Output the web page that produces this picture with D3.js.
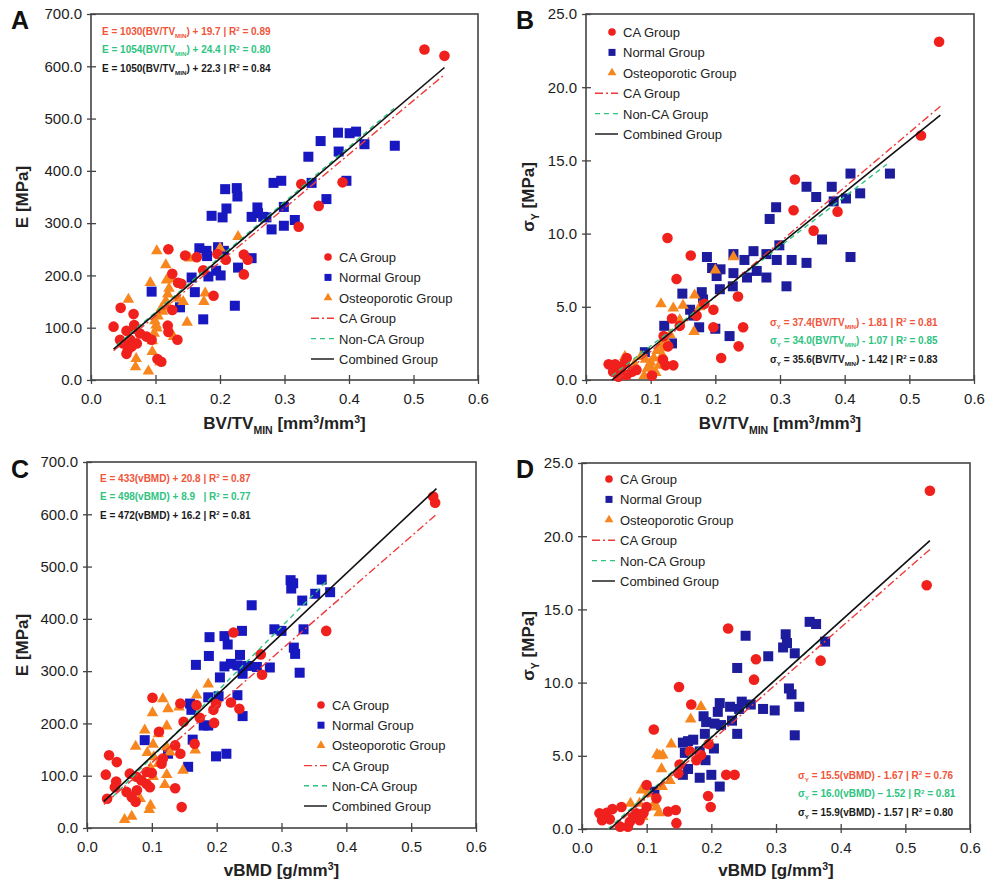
<!DOCTYPE html>
<meta charset="utf-8">
<style>
body { margin: 0; background: #fff; }
text { font-family: "Liberation Sans", Arial, sans-serif; }
</style>
<body>
<div id="chart"></div>
<script src="https://d3js.org/d3.v7.min.js"></script>
<script>
// ---- values ----
var xTicks = [0, 0.1, 0.2, 0.3, 0.4, 0.5, 0.6];
var eTicks = [0, 100, 200, 300, 400, 500, 600, 700];
var sTicks = [0, 5, 10, 15, 20, 25];
var legendNames = ["CA Group", "Normal Group", "Osteoporotic Group", "CA Group", "Non-CA Group", "Combined Group"];

// panel A : E vs BV/TVmin
var aCA = [[0.517,632],[0.548,620],[0.326,375],[0.39,378],[0.353,333],[0.322,293],
  [0.120,250],[0.146,238],[0.164,235],[0.196,241],[0.209,230],[0.237,240],[0.243,230],[0.237,202],
  [0.174,210],[0.126,203],[0.135,186],[0.140,184],[0.19,161],[0.119,104],[0.12,92],[0.134,77],
  [0.103,40],[0.109,35],[0.126,134],[0.035,102],[0.046,138],[0.066,126],[0.055,94],[0.061,77],
  [0.057,57],[0.055,50],[0.071,70],[0.067,105],[0.076,89],[0.045,77],[0.086,83],[0.094,77],
  [0.063,64],[0.05,70],[0.068,98]];
var aNormal = [[0.471,448],[0.383,473],[0.401,472],[0.411,475],[0.356,457],[0.424,451],[0.384,437],
  [0.337,427],[0.396,381],[0.342,377],[0.283,377],[0.295,381],[0.365,346],[0.299,331],[0.258,330],
  [0.316,306],[0.299,295],[0.280,288],[0.267,312],[0.249,312],[0.259,319],[0.272,311],[0.187,314],
  [0.204,311],[0.21,328],[0.208,365],[0.226,367],[0.227,351],[0.168,252],[0.179,247],[0.18,237],
  [0.197,254],[0.206,247],[0.194,209],[0.201,200],[0.182,198],[0.156,196],[0.228,215],[0.249,233],
  [0.161,168],[0.174,116],[0.223,142],[0.094,169],[0.138,139]];
var aOsteo = [[0.102,247],[0.116,220],[0.092,186],[0.058,154],[0.121,175],[0.119,164],[0.116,151],
  [0.12,140],[0.111,131],[0.104,122],[0.099,113],[0.109,137],[0.102,99],[0.098,89],[0.101,105],
  [0.095,75],[0.095,54],[0.07,41],[0.069,25],[0.089,17],[0.107,34],[0.128,83],[0.135,156],
  [0.143,150],[0.149,110],[0.153,233],[0.177,166],[0.175,150],[0.2,252],[0.228,274],[0.117,191],[0.125,194]];
var aFitCA = [[0.035,55.8],[0.548,584]];
var aFitNon = [[0.04,66.6],[0.47,519.8]];
var aFitAll = [[0.035,59],[0.548,597.7]];

// panel B : sigmaY vs BV/TVmin
var bCA = [[0.546,23.1],[0.518,16.7],[0.323,13.7],[0.321,11.6],[0.389,11.5],[0.352,10.2],
  [0.126,9.7],[0.162,8.5],[0.140,6.9],[0.235,5.7],[0.243,3.6],[0.236,2.3],[0.209,1.5],[0.197,4.8],
  [0.197,3.6],[0.171,4.4],[0.133,4.2],[0.145,3.7],[0.127,2.3],[0.12,3.0],[0.119,1.4],[0.123,1.0],
  [0.135,1.0],[0.102,0.3],[0.035,1.07],[0.045,1.07],[0.055,0.9],[0.063,1.5],[0.053,0.7],[0.05,0.23],
  [0.071,0.57],[0.078,0.68],[0.063,0.34],[0.042,0.57],[0.06,1.2],[0.183,5.2]];
var bNormal = [[0.47,14.1],[0.409,14.1],[0.341,13.2],[0.38,13.2],[0.356,12.5],[0.402,12.4],[0.424,12.75],
  [0.383,12.2],[0.294,11.8],[0.284,11.0],[0.365,9.6],[0.299,9.2],[0.228,8.6],[0.259,8.8],[0.187,8.4],
  [0.245,8.2],[0.295,8.2],[0.318,8.2],[0.341,8.0],[0.409,8.4],[0.279,8.6],[0.195,7.65],[0.208,7.56],
  [0.228,7.3],[0.202,7.1],[0.264,7.45],[0.279,7.0],[0.249,7.0],[0.227,6.4],[0.207,6.2],[0.31,6.4],
  [0.149,5.9],[0.179,6.0],[0.161,4.8],[0.181,5.5],[0.175,3.6],[0.121,3.7],[0.2,3.5],[0.222,3.0],
  [0.133,2.5],[0.091,1.9],[0.166,4.4]];
var bOsteo = [[0.228,8.4],[0.2,7.5],[0.168,5.8],[0.116,5.2],[0.15,5.1],[0.135,4.9],[0.167,3.3],
  [0.145,4.1],[0.176,5.0],[0.09,0.3],[0.095,0.8],[0.1,1.2],[0.105,1.5],[0.11,2.0],[0.115,2.4],
  [0.12,2.2],[0.1,0.9],[0.092,1.4],[0.108,0.5],[0.125,2.6],[0.13,3.1],[0.06,1.6],[0.075,1.1],
  [0.085,1.6],[0.113,1.0],[0.118,1.7]];
var bFitCA = [[0.048,0],[0.548,18.7]];
var bFitNon = [[0.04,0.29],[0.47,14.9]];
var bFitAll = [[0.04,0],[0.548,18.1]];

// panel C : E vs vBMD
var cCA = [[0.534,634],[0.537,622],[0.369,377],[0.226,374],[0.268,332],[0.27,293],[0.101,249],
  [0.144,238],[0.169,235],[0.199,237],[0.222,240],[0.235,228],[0.195,226],[0.174,211],[0.149,203],
  [0.196,201],[0.111,184],[0.136,158],[0.117,133],[0.144,142],[0.166,161],[0.034,139],[0.046,126],
  [0.029,102],[0.045,89],[0.066,104],[0.1,105],[0.076,98],[0.084,91],[0.092,84],[0.097,78],
  [0.061,69],[0.077,72],[0.043,78],[0.031,56],[0.075,50],[0.136,76],[0.146,40],[0.115,123],
  [0.092,107],[0.069,59]];
var cNormal = [[0.362,475],[0.314,474],[0.318,468],[0.315,458],[0.375,451],[0.352,448],[0.332,435],
  [0.254,426],[0.334,380],[0.289,380],[0.3,377],[0.239,377],[0.189,365],[0.212,367],[0.217,351],
  [0.319,345],[0.321,333],[0.188,329],[0.236,331],[0.168,312],[0.212,309],[0.222,314],[0.232,311],
  [0.247,310],[0.24,295],[0.262,308],[0.282,307],[0.328,297],[0.205,288],[0.187,250],[0.203,252],
  [0.232,254],[0.159,238],[0.161,226],[0.24,214],[0.18,196],[0.187,196],[0.163,169],[0.089,168],
  [0.125,142],[0.199,137],[0.215,142],[0.156,117]];
var cOsteo = [[0.187,275],[0.169,254],[0.117,247],[0.125,228],[0.142,231],[0.101,220],[0.089,187],
  [0.075,156],[0.102,160],[0.093,144],[0.103,136],[0.11,123],[0.123,155],[0.128,145],[0.167,149],
  [0.123,102],[0.12,83],[0.148,110],[0.102,98],[0.098,115],[0.082,56],[0.096,35],[0.098,43],
  [0.069,22],[0.058,16],[0.123,195],[0.11,180]];
var cFitCA = [[0.026,45],[0.539,600]];
var cFitNon = [[0.04,60],[0.368,470]];
var cFitAll = [[0.026,51],[0.539,649]];

// panel D : sigmaY vs vBMD
var dCA = [[0.538,23.1],[0.533,16.65],[0.226,13.7],[0.269,11.6],[0.369,11.5],[0.266,10.2],[0.15,9.7],
  [0.169,8.5],[0.111,6.8],[0.196,5.8],[0.184,5.05],[0.167,5.3],[0.151,4.4],[0.177,4.7],[0.223,3.7],
  [0.236,3.7],[0.195,2.25],[0.199,1.5],[0.146,0.4],[0.145,1.3],[0.133,1.2],[0.115,2.1],[0.1,3.0],
  [0.149,3.8],[0.027,1.07],[0.038,1.1],[0.047,1.36],[0.031,0.6],[0.043,0.66],[0.061,1.5],[0.059,0.16],
  [0.074,0.5],[0.079,0.84],[0.084,1.07],[0.089,0.6],[0.1,1.5],[0.095,1.07],[0.071,0.16]];
var dNormal = [[0.352,14.15],[0.362,14.0],[0.376,12.8],[0.315,13.3],[0.311,12.4],[0.317,12.7],
  [0.329,12.0],[0.253,13.2],[0.288,11.8],[0.24,11.0],[0.32,9.6],[0.324,9.2],[0.336,8.35],[0.28,8.2],
  [0.298,8.1],[0.329,6.4],[0.24,6.5],[0.21,8.0],[0.213,8.6],[0.229,8.35],[0.247,8.7],[0.243,8.2],
  [0.261,8.5],[0.188,7.7],[0.192,7.3],[0.19,6.5],[0.205,7.2],[0.215,7.1],[0.232,7.4],[0.164,6.0],
  [0.156,5.9],[0.172,6.1],[0.159,5.2],[0.164,4.1],[0.156,3.7],[0.182,3.5],[0.2,3.7],[0.213,2.9],
  [0.191,4.7],[0.204,5.5],[0.112,2.55],[0.182,5.3]];
var dOsteo = [[0.184,8.35],[0.168,7.5],[0.138,5.8],[0.116,5.1],[0.125,5.05],[0.123,4.1],[0.12,5.0],
  [0.124,2.9],[0.136,3.3],[0.112,1.75],[0.119,1.1],[0.115,1.5],[0.089,1.75],[0.075,1.75],[0.082,0.95],
  [0.092,2.65],[0.102,2.4],[0.094,0.84]];
var dFitCA = [[0.045,0],[0.538,19.1]];
var dFitNon = [[0.04,0],[0.373,13.1]];
var dFitAll = [[0.043,0],[0.538,19.7]];

// regression labels: [text, "n" normal | "sub" | "sup"]
var aEq = [
  [["E = 1030(BV/TV","n"],["MIN","sub"],[") + 19.7 | R","n"],["2","sup"],[" = 0.89","n"]],
  [["E = 1054(BV/TV","n"],["MIN","sub"],[") + 24.4 | R","n"],["2","sup"],[" = 0.80","n"]],
  [["E = 1050(BV/TV","n"],["MIN","sub"],[") + 22.3 | R","n"],["2","sup"],[" = 0.84","n"]]];
var bEq = [
  [["\u03c3","n"],["Y","sub"],[" = 37.4(BV/TV","n"],["MIN","sub"],[") - 1.81 | R","n"],["2","sup"],[" = 0.81","n"]],
  [["\u03c3","n"],["Y","sub"],[" = 34.0(BV/TV","n"],["MIN","sub"],[") - 1.07 | R","n"],["2","sup"],[" = 0.85","n"]],
  [["\u03c3","n"],["Y","sub"],[" = 35.6(BV/TV","n"],["MIN","sub"],[") - 1.42 | R","n"],["2","sup"],[" = 0.83","n"]]];
var cEq = [
  [["E = 433(vBMD) + 20.8 | R","n"],["2","sup"],[" = 0.87","n"]],
  [["E = 498(vBMD) + 8.9   | R","n"],["2","sup"],[" = 0.77","n"]],
  [["E = 472(vBMD) + 16.2 | R","n"],["2","sup"],[" = 0.81","n"]]];
var dEq = [
  [["\u03c3","n"],["Y","sub"],[" = 15.5(vBMD) - 1.67 | R","n"],["2","sup"],[" = 0.76","n"]],
  [["\u03c3","n"],["Y","sub"],[" = 16.0(vBMD) \u2013 1.52 | R","n"],["2","sup"],[" = 0.81","n"]],
  [["\u03c3","n"],["Y","sub"],[" = 15.9(vBMD) - 1.57 | R","n"],["2","sup"],[" = 0.80","n"]]];

var xTitleBV = [["BV/TV","n"],["MIN","sub"],[" [mm","n"],["3","sup"],["/mm","n"],["3","sup"],["]","n"]];
var xTitleVB = [["vBMD [g/mm","n"],["3","sup"],["]","n"]];
var yTitleE = [["E [MPa]","n"]];
var yTitleS = [["\u03c3","n"],["Y","sub"],[" [MPa]","n"]];

var eqColors = ["#f0553a", "#2ec47f", "#1a1a1a"];
var red = "#f0201c", orange = "#f7861e";

var svg = d3.select("#chart").append("svg")
    .attr("width", 995)
    .attr("height", 880);

// write text made of normal / subscript / superscript pieces
function richText(sel, parts, size) {
  var shift = 0;
  parts.forEach(function(p) {
    var t = sel.append("tspan").text(p[0]);
    var target = p[1] == "sub" ? size * 0.3 : (p[1] == "sup" ? -size * 0.38 : 0);
    t.attr("dy", target - shift);
    if (p[1] != "n") t.attr("font-size", size * 0.62);
    shift = target;
  });
}

function panel(p) {
  var x = d3.scaleLinear().domain([0, 0.6]).range([p.left, p.left + p.width]);
  var y = d3.scaleLinear().domain([0, p.ymax]).range([p.top + p.height, p.top]);
  var g = svg.append("g");
  var bottom = p.top + p.height;

  // x axis: ticks crossing the frame, labels below
  g.append("g").attr("transform", "translate(0," + bottom + ")")
    .call(d3.axisBottom(x).tickValues(xTicks).tickFormat(d3.format(".1f")).tickSizeInner(4).tickSizeOuter(0).tickPadding(9))
    .call(function(a) { a.select(".domain").remove(); });
  g.append("g").attr("transform", "translate(0," + bottom + ")")
    .call(d3.axisBottom(x).tickValues(xTicks).tickFormat("").tickSizeInner(-5).tickSizeOuter(0))
    .call(function(a) { a.select(".domain").remove(); });
  g.append("g").attr("transform", "translate(" + p.left + ",0)")
    .call(d3.axisLeft(y).tickValues(p.yTicks).tickFormat(d3.format(".1f")).tickSizeInner(4).tickSizeOuter(0).tickPadding(5))
    .call(function(a) { a.select(".domain").remove(); });
  g.append("g").attr("transform", "translate(" + p.left + ",0)")
    .call(d3.axisLeft(y).tickValues(p.yTicks).tickFormat("").tickSizeInner(-5).tickSizeOuter(0))
    .call(function(a) { a.select(".domain").remove(); });
  g.selectAll(".tick text").attr("font-size", 15).attr("fill", "#1c1c1c")
    .style("font-family", "'Liberation Sans', Arial, sans-serif");
  g.selectAll(".tick line").attr("stroke", "#444").attr("stroke-width", 1.3);

  // frame
  g.append("rect")
    .attr("x", p.left).attr("y", p.top)
    .attr("width", p.width).attr("height", p.height)
    .attr("fill", "none").attr("stroke", "#444").attr("stroke-width", 1.6);

  // points
  g.selectAll(".nrm").data(p.normal).enter().append("rect")
    .attr("x", function(d) { return x(d[0]) - 5; })
    .attr("y", function(d) { return y(d[1]) - 5; })
    .attr("width", 10).attr("height", 10)
    .attr("fill", p.blue);
  g.selectAll(".ost").data(p.osteo).enter().append("path")
    .attr("d", d3.symbol(d3.symbolTriangle).size(58))
    .attr("transform", function(d) { return "translate(" + x(d[0]) + "," + y(d[1]) + ")"; })
    .attr("fill", orange);
  g.selectAll(".ca").data(p.ca).enter().append("circle")
    .attr("cx", function(d) { return x(d[0]); })
    .attr("cy", function(d) { return y(d[1]); })
    .attr("r", 5.3)
    .attr("fill", red);

  // regression lines
  var line = d3.line().x(function(d) { return x(d[0]); }).y(function(d) { return y(d[1]); });
  g.append("path").attr("d", line(p.fitNon)).attr("fill", "none")
    .attr("stroke", "#2ec47f").attr("stroke-width", 1.4).attr("stroke-dasharray", "5,4");
  g.append("path").attr("d", line(p.fitCA)).attr("fill", "none")
    .attr("stroke", "#ee3a3a").attr("stroke-width", 1.4).attr("stroke-dasharray", "8,3,2,3");
  g.append("path").attr("d", line(p.fitAll)).attr("fill", "none")
    .attr("stroke", "#111").attr("stroke-width", 1.6);

  // legend
  var lg = g.append("g").attr("transform", "translate(" + p.legend[0] + "," + p.legend[1] + ")");
  legendNames.forEach(function(name, i) {
    var yy = i * p.legendStep;
    if (i == 0) lg.append("circle").attr("cx", 0).attr("cy", yy).attr("r", 3.8).attr("fill", red);
    if (i == 1) lg.append("rect").attr("x", -3.5).attr("y", yy - 3.5).attr("width", 7).attr("height", 7).attr("fill", p.blue);
    if (i == 2) lg.append("path").attr("d", d3.symbol(d3.symbolTriangle).size(34)).attr("transform", "translate(0," + yy + ")").attr("fill", orange);
    if (i >= 3) {
      var st = [["#ee3a3a", "8,3,2,3"], ["#2ec47f", "5,4"], ["#111", null]][i - 3];
      lg.append("line").attr("x1", -17).attr("x2", 6).attr("y1", yy).attr("y2", yy)
        .attr("stroke", st[0]).attr("stroke-width", 1.4).attr("stroke-dasharray", st[1]);
    }
    lg.append("text").attr("x", 11).attr("y", yy + 5).attr("font-size", 13).attr("fill", "#222").text(name);
  });

  // regression equations
  p.eq.forEach(function(parts, i) {
    var t = g.append("text").attr("x", p.eqPos[0]).attr("y", p.eqPos[1] + i * 18.3)
      .attr("font-size", 10).attr("font-weight", "bold").attr("fill", eqColors[i])
      .style("white-space", "pre");
    richText(t, parts, 10);
  });

  // axis titles
  var xt = g.append("text").attr("x", p.left + p.width / 2).attr("y", p.xTitleY)
    .attr("text-anchor", "middle").attr("font-size", 17).attr("font-weight", "bold").attr("fill", "#222");
  richText(xt, p.xTitle, 17);
  var yt = g.append("text")
    .attr("transform", "translate(" + p.yTitleX + "," + (p.top + p.height / 2) + ") rotate(-90)")
    .attr("text-anchor", "middle").attr("font-size", 17).attr("font-weight", "bold").attr("fill", "#222");
  richText(yt, p.yTitle, 17);

  // panel letter
  g.append("text").attr("x", p.letterPos[0]).attr("y", p.letterPos[1])
    .attr("font-size", 25).attr("font-weight", "bold").attr("fill", "#111").text(p.letter);
}

panel({letter: "A", letterPos: [11, 29], left: 91, top: 14, width: 387, height: 366, ymax: 700, yTicks: eTicks,
  ca: aCA, normal: aNormal, osteo: aOsteo, fitCA: aFitCA, fitNon: aFitNon, fitAll: aFitAll, blue: "#1818c0",
  legend: [328, 257], legendStep: 20.4, eq: aEq, eqPos: [102, 35],
  xTitle: xTitleBV, xTitleY: 429, yTitle: yTitleE, yTitleX: 28});
panel({letter: "B", letterPos: [516, 29], left: 586, top: 14, width: 388, height: 366, ymax: 25, yTicks: sTicks,
  ca: bCA, normal: bNormal, osteo: bOsteo, fitCA: bFitCA, fitNon: bFitNon, fitAll: bFitAll, blue: "#1c1c9c",
  legend: [612, 32], legendStep: 20.4, eq: bEq, eqPos: [770, 326],
  xTitle: xTitleBV, xTitleY: 429, yTitle: yTitleS, yTitleX: 534});
panel({letter: "C", letterPos: [11, 478], left: 87, top: 462, width: 389, height: 366, ymax: 700, yTicks: eTicks,
  ca: cCA, normal: cNormal, osteo: cOsteo, fitCA: cFitCA, fitNon: cFitNon, fitAll: cFitAll, blue: "#1818c0",
  legend: [321, 705], legendStep: 20.2, eq: cEq, eqPos: [100, 482],
  xTitle: xTitleVB, xTitleY: 876, yTitle: yTitleE, yTitleX: 28});
panel({letter: "D", letterPos: [516, 478], left: 582, top: 463, width: 388, height: 366, ymax: 25, yTicks: sTicks,
  ca: dCA, normal: dNormal, osteo: dOsteo, fitCA: dFitCA, fitNon: dFitNon, fitAll: dFitAll, blue: "#1c1c9c",
  legend: [609, 479], legendStep: 20.4, eq: dEq, eqPos: [798, 779],
  xTitle: xTitleVB, xTitleY: 876, yTitle: yTitleS, yTitleX: 534});
</script>
</body>
